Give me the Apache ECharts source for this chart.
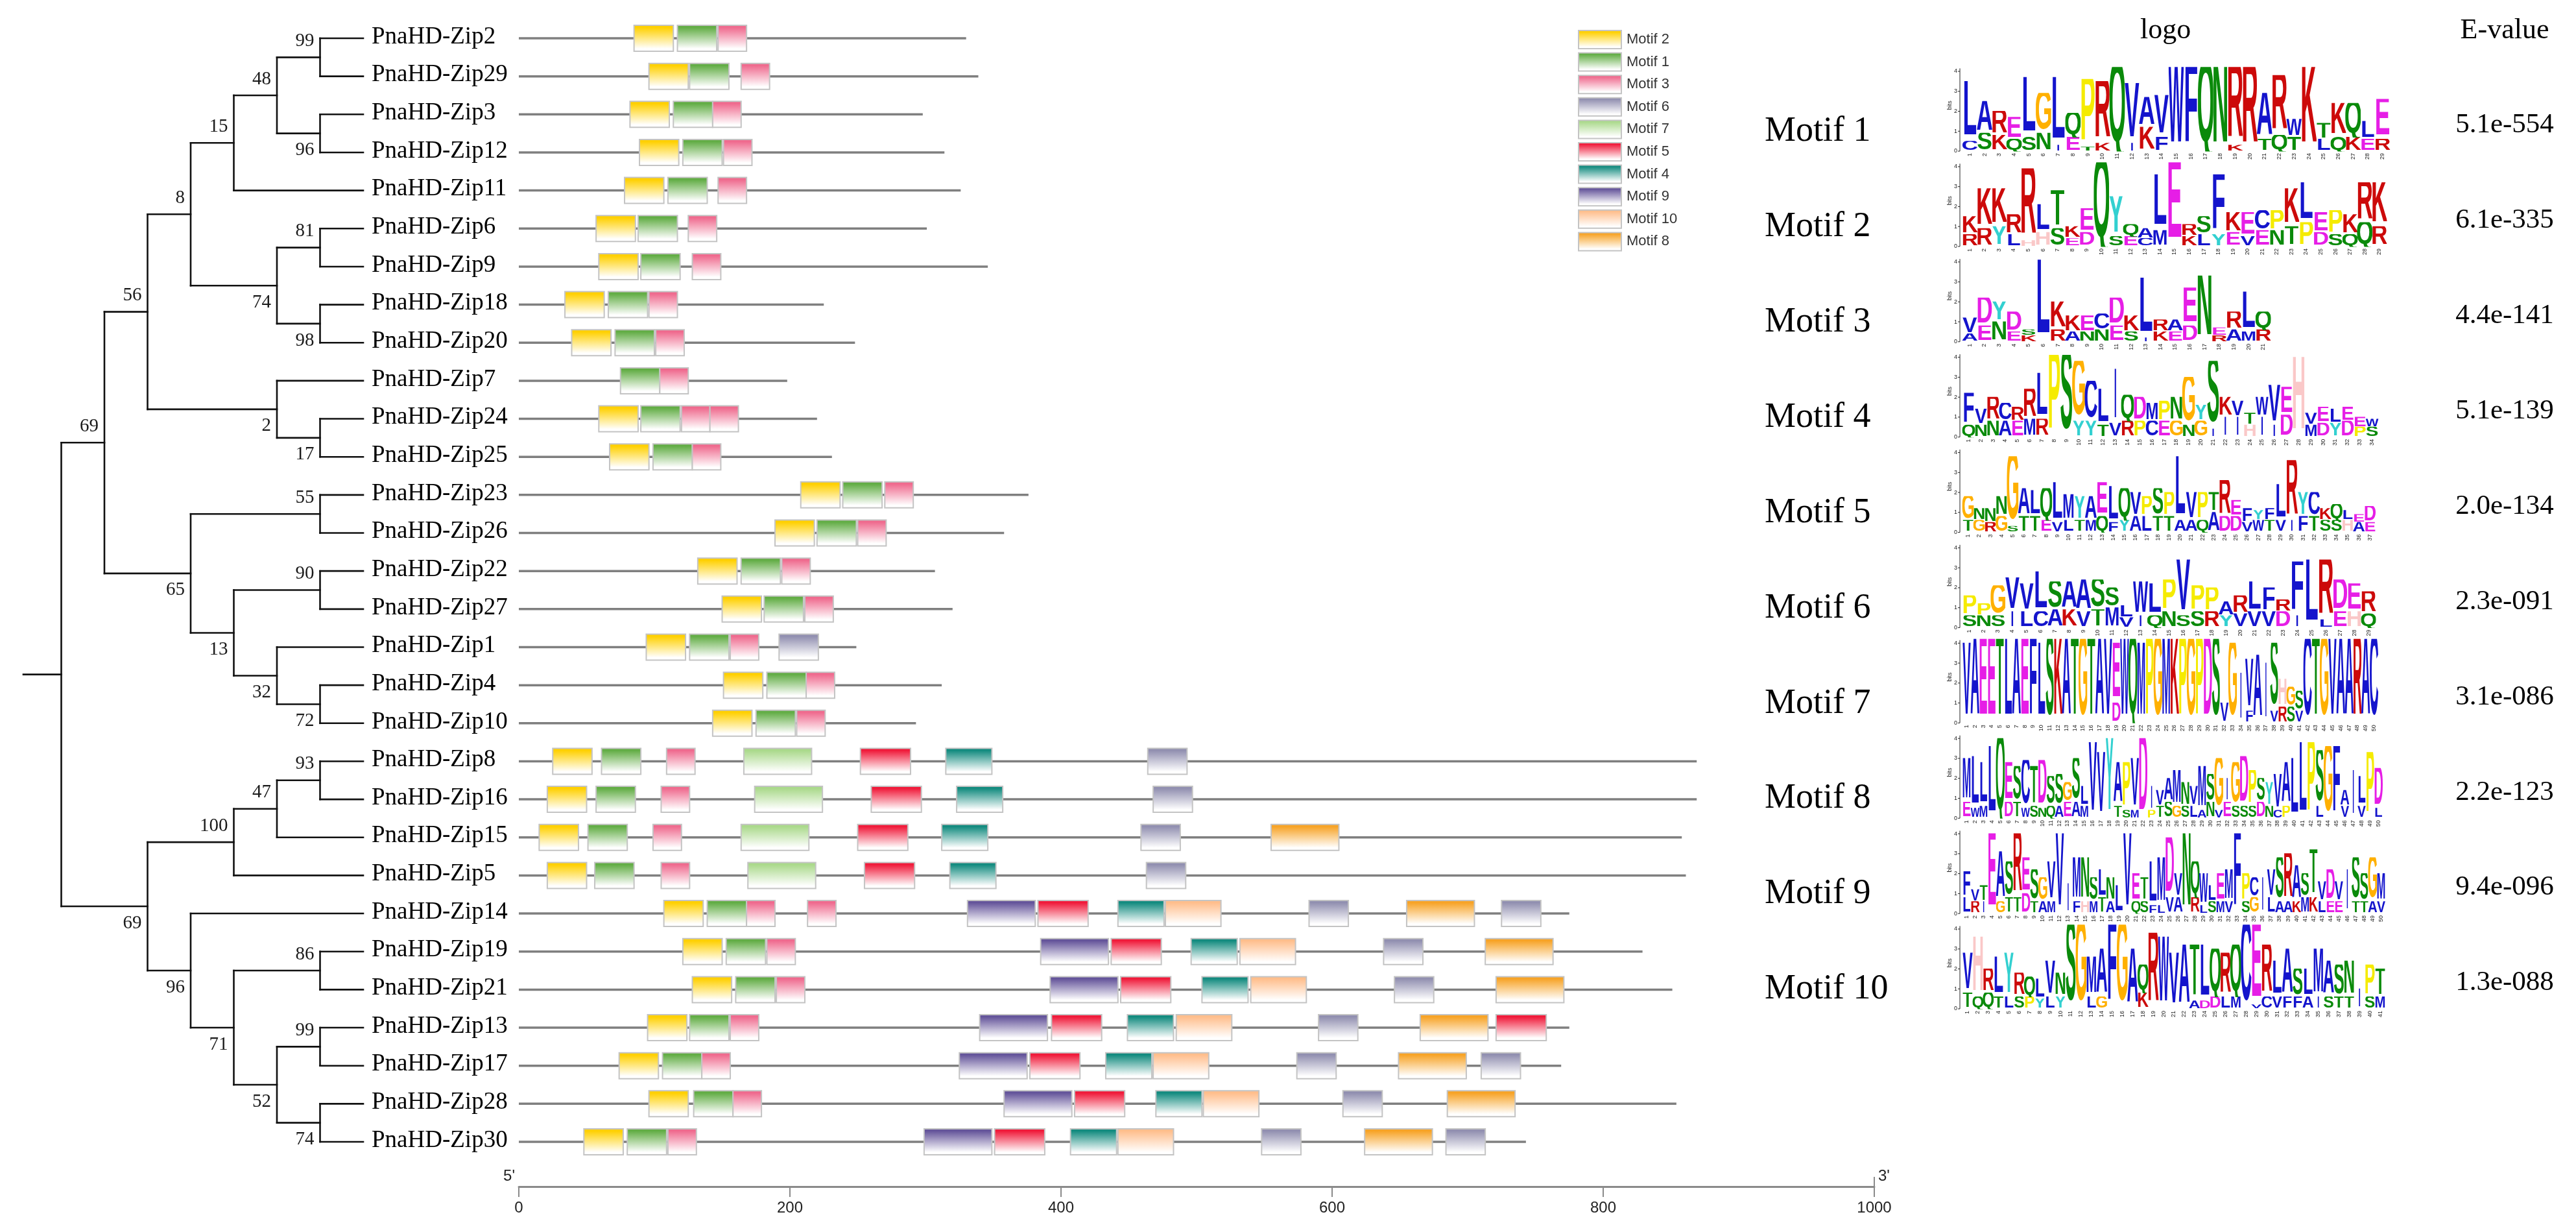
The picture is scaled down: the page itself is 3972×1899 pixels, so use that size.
<!DOCTYPE html>
<html><head><meta charset="utf-8">
<script src="https://cdn.jsdelivr.net/npm/echarts@6/dist/echarts.min.js"></script>
<style>html,body{margin:0;padding:0;background:#fff}#c{width:3972px;height:1899px}</style>
</head><body><div id="c"></div>
<script>
// ---------------- DATA ----------------
const geneNames = ['PnaHD-Zip2','PnaHD-Zip29','PnaHD-Zip3','PnaHD-Zip12','PnaHD-Zip11','PnaHD-Zip6','PnaHD-Zip9','PnaHD-Zip18','PnaHD-Zip20','PnaHD-Zip7','PnaHD-Zip24','PnaHD-Zip25','PnaHD-Zip23','PnaHD-Zip26','PnaHD-Zip22','PnaHD-Zip27','PnaHD-Zip1','PnaHD-Zip4','PnaHD-Zip10','PnaHD-Zip8','PnaHD-Zip16','PnaHD-Zip15','PnaHD-Zip5','PnaHD-Zip14','PnaHD-Zip19','PnaHD-Zip21','PnaHD-Zip13','PnaHD-Zip17','PnaHD-Zip28','PnaHD-Zip30'];
const geneLengths = [330,339,298,314,326,301,346,225,248,198,220,231,376,358,307,320,249,312,293,869,869,858,861,775,829,851,775,769,854,743];
// [motif, start] per gene, same order as geneNames
const geneMotifs = [
 [[2,85],[1,117],[3,147]],
 [[2,96],[1,126],[3,164]],
 [[2,82],[1,114],[3,143]],
 [[2,89],[1,121],[3,151]],
 [[2,78],[1,110],[3,147]],
 [[2,57],[1,88],[3,125]],
 [[2,59],[1,90],[3,128]],
 [[2,34],[1,66],[3,96]],
 [[2,39],[1,71],[3,101]],
 [[1,75],[3,104]],
 [[2,59],[1,90],[3,120],[3,141]],
 [[2,67],[1,99],[3,128]],
 [[2,208],[1,239],[3,270]],
 [[2,189],[1,220],[3,250]],
 [[2,132],[1,164],[3,194]],
 [[2,150],[1,181],[3,211]],
 [[2,94],[1,126],[3,156],[6,192]],
 [[2,151],[1,183],[3,212]],
 [[2,143],[1,175],[3,205]],
 [[2,25],[1,61],[3,109],[7,166],[5,252],[4,315],[6,464]],
 [[2,21],[1,57],[3,105],[7,174],[5,260],[4,323],[6,468]],
 [[2,15],[1,51],[3,99],[7,164],[5,250],[4,312],[6,459],[8,555]],
 [[2,21],[1,56],[3,105],[7,169],[5,255],[4,318],[6,463]],
 [[2,107],[1,139],[3,168],[3,213],[9,331],[5,383],[4,442],[10,477],[6,583],[8,655],[6,725]],
 [[2,121],[1,153],[3,183],[9,385],[5,437],[4,496],[10,532],[6,638],[8,713]],
 [[2,128],[1,160],[3,190],[9,392],[5,444],[4,504],[10,540],[6,646],[8,721]],
 [[2,95],[1,126],[3,156],[9,340],[5,393],[4,449],[10,485],[6,590],[8,665],[5,721]],
 [[2,74],[1,106],[3,135],[9,325],[5,377],[4,433],[10,468],[6,574],[8,649],[6,710]],
 [[2,96],[1,129],[3,158],[9,358],[5,410],[4,470],[10,505],[6,608],[8,685]],
 [[2,48],[1,80],[3,110],[9,299],[5,351],[4,407],[10,442],[6,548],[8,624],[6,684]]
];
// motif lengths (aa), motif 1..10
const motifLengths = [29,29,21,34,37,29,50,50,50,41];
const legendOrder = [2,1,3,6,7,5,4,9,10,8];
const axisTicks = [0,200,400,600,800,1000];
// phylogenetic tree: [bootstrap, child, child]
const treeData = [null,
 [69,
  [56,
   [8,
    [15, [48, [99,'PnaHD-Zip2','PnaHD-Zip29'], [96,'PnaHD-Zip3','PnaHD-Zip12']], 'PnaHD-Zip11'],
    [74, [81,'PnaHD-Zip6','PnaHD-Zip9'], [98,'PnaHD-Zip18','PnaHD-Zip20']]
   ],
   [2, 'PnaHD-Zip7', [17,'PnaHD-Zip24','PnaHD-Zip25']]
  ],
  [65,
   [55,'PnaHD-Zip23','PnaHD-Zip26'],
   [13, [90,'PnaHD-Zip22','PnaHD-Zip27'], [32,'PnaHD-Zip1',[72,'PnaHD-Zip4','PnaHD-Zip10']]]
  ]
 ],
 [69,
  [100, [47, [93,'PnaHD-Zip8','PnaHD-Zip16'], 'PnaHD-Zip15'], 'PnaHD-Zip5'],
  [96, 'PnaHD-Zip14', [71, [86,'PnaHD-Zip19','PnaHD-Zip21'], [52, [99,'PnaHD-Zip13','PnaHD-Zip17'], [74,'PnaHD-Zip28','PnaHD-Zip30']]]]
 ]
];
const motifLabels = ['Motif 1','Motif 2','Motif 3','Motif 4','Motif 5','Motif 6','Motif 7','Motif 8','Motif 9','Motif 10'];
const eValues = ['5.1e-554','6.1e-335','4.4e-141','5.1e-139','2.0e-134','2.3e-091','3.1e-086','2.2e-123','9.4e-096','1.3e-088'];
// sequence logos: top letter per column, its height (tenths of bits), second letter, its height
const logoSeq = [
 'LARELGLQPRQVAVWFQNRRARWKTKQLE',
 'KKKRRLTKEQYQALERSFKECPKLEPKRK',
 'VDYDSLKKECDKLRAENERLQ',
 'FVRCRRLPSGCLIQDMPNGYSKVTWVEHVELEEW',
 'GNNNGALQLMYAELQVPSPLVPTREFYFLRYCKQLED',
 'PPGVVLSAASSLWLPVPPARLFRFLRDER',
 'VAEETLAEFLSKATGTAVEWQMPGMKPGPDSVGIVAISHGSCTGVAARAC',
 'MLLLQESCTDSSGSLVVYAPVDIVAMNVMSGIGDPSYVALLPSGFAILPD',
 'FVTEASRESGVVIMNSLNLVETLMDVNQWLEMFPCIVSRASTVDVISSGM',
 'VHRLYRQLVNSGMAFGAQRWVATLQRQCERLASLMASNIPT'
];
const logoTopH = [
 [30,16,12,11,30,20,34,12,34,31,42,30,15,21,42,42,42,42,39,42,23,30,9,42,8,17,17,9,20],
 [9,20,19,10,36,14,19,6,12,42,20,6,5,28,42,6,9,30,10,12,10,10,19,20,10,12,10,20,22],
 [8,14,10,10,3,41,14,8,8,8,14,8,30,6,6,19,33,4,9,20,9],
 [16,8,12,9,7,15,23,41,41,30,20,18,27,13,12,9,10,12,24,8,34,10,8,6,10,20,14,40,6,8,7,7,5,4],
 [12,6,7,10,35,14,13,16,20,13,12,12,17,18,16,12,10,14,12,32,14,14,10,18,8,7,5,6,18,30,12,12,6,8,5,4,8],
 [10,6,15,17,14,20,14,14,16,15,10,6,17,16,16,28,13,12,7,9,15,12,6,27,34,30,16,14,11],
 [40,42,42,42,42,42,42,42,42,40,42,42,42,42,42,42,42,42,30,42,42,40,42,42,42,42,42,42,42,42,42,10,40,25,26,34,30,34,14,10,10,42,42,42,42,42,42,42,42,42],
 [22,26,22,36,40,20,18,24,20,24,15,16,10,22,10,38,33,40,22,24,26,40,12,8,12,18,12,10,22,14,26,12,22,25,18,12,12,18,22,30,38,38,28,36,36,8,24,15,33,20],
 [13,6,8,40,25,18,32,18,16,12,20,40,15,22,22,12,14,12,14,40,14,12,22,24,30,12,40,18,16,8,14,16,40,14,10,18,14,22,24,18,12,24,10,16,10,22,22,14,22,14],
 [20,30,12,20,22,12,10,10,18,12,42,42,20,24,42,42,30,14,38,36,28,32,28,28,24,22,26,42,40,26,18,24,14,14,24,18,16,18,10,16,14]
];
const logoSub = [
 'CSKQSNIETK IKF    K TQT LQKER',
 'RRYLHHSED SECM KLYEVENTPDSQQR',
 'AENEK RANNESIKED RAMR',
 'QNNAEMR  YYTVRPCEGNGIIIHIID MDYDPS',
 'TGRGSTTEVLTMQFYALTTAAQADDVWTVIFTSSHAE',
 'SNSILCAKVTMVIQNSSRYVVVDI LEHQ',
 '                  D               F  VRSV         ',
 'EWM  DTWSNQAEAM   TSM PTSGSLANVESSSDNCP   L  V V L',
 'LRI GTTDTAM  FHMTA  QSFLVA RLSMV SG LAAKMKLEE TTAV',
 'TQQTLSPYLY  LG   K    ADDLM VCVFFAISTT SM'
];
const logoSubH = [
 [5,9,8,6,7,9,3,7,2,4,0,4,12,7,0,0,0,0,3,0,6,8,7,0,6,7,7,6,6],
 [6,9,10,6,3,7,9,4,7,0,5,5,4,8,0,5,6,6,7,5,8,8,10,12,7,6,6,12,10],
 [4,8,10,5,3,0,6,5,5,6,8,5,2,5,5,8,0,3,6,5,6],
 [6,6,8,8,8,9,9,0,0,8,8,6,7,8,8,8,8,8,6,8,4,10,10,6,10,6,11,0,6,7,7,8,5,5],
 [6,6,5,8,3,8,8,6,5,6,6,6,8,5,6,8,8,8,8,6,6,6,10,8,8,5,6,6,6,6,8,8,6,6,6,5,5],
 [6,6,6,8,8,8,9,9,8,9,10,5,6,6,8,6,8,8,6,7,8,8,8,6,0,4,8,8,7],
 [0,0,0,0,0,0,0,0,0,0,0,0,0,0,0,0,0,0,10,0,0,0,0,0,0,0,0,0,0,0,0,0,0,0,6,0,0,6,8,8,6,0,0,0,0,0,0,0,0,0],
 [8,5,6,0,0,8,8,5,6,5,6,6,8,8,6,0,0,0,6,4,4,0,4,6,8,6,6,6,4,8,4,8,6,6,6,8,6,4,6,0,0,0,6,0,0,6,0,6,0,5],
 [8,6,6,0,6,8,8,10,6,6,6,0,0,6,6,6,8,6,0,0,6,6,4,4,8,8,0,8,4,6,6,6,0,6,8,0,8,6,6,6,8,8,6,6,6,0,6,6,6,6],
 [8,6,8,6,6,6,6,5,6,6,0,0,6,6,0,0,0,8,0,0,0,0,4,4,6,6,6,0,2,6,6,6,6,6,6,6,6,6,0,6,6]
];

// ---------------- STYLE / LAYOUT ----------------
const SERIF = '"Liberation Serif","Times New Roman",serif';
const SANS = '"Liberation Sans",Arial,sans-serif';
const motifColors = {1:'#62AD45',2:'#FFD000',3:'#EF6A8E',4:'#138B7F',5:'#F01A3A',6:'#918FB0',7:'#AAD98B',8:'#F7A326',9:'#64549A',10:'#FFBE8C'};
const LOGO_W = [659,654,475,641,637,637,641,648,652,652]; // px widths of logos
const LOGO_FULL = 659;
const BIT = 30.75/146.9; // one bit in row units
const letterColors = {A:'#1414CC',C:'#1414CC',F:'#1414CC',I:'#1414CC',L:'#1414CC',V:'#1414CC',W:'#1414CC',M:'#1414CC',
  N:'#0A8A0A',Q:'#0A8A0A',S:'#0A8A0A',T:'#0A8A0A',D:'#E61EE6',E:'#E61EE6',K:'#CC0A0A',R:'#CC0A0A',H:'#FAC8C8',G:'#FFB000',P:'#F5EB00',Y:'#33D0D0'};
const letterAdv = {M:0.78,W:0.88,I:1.3};

function grad(c){
  return new echarts.graphic.LinearGradient(0,0,0,1,[{offset:0,color:c},{offset:0.1,color:c},{offset:0.88,color:'#ffffff'},{offset:1,color:'#ffffff'}]);
}

// ---------------- TREE LAYOUT ----------------
const LEAF = 8;
const leafOrder = [], treeSegs = [], bootItems = [];
function lay(node){
  if (typeof node === 'string'){ const y = leafOrder.length; leafOrder.push(node); return {y:y,h:0,boot:null}; }
  const kids = [lay(node[1]), lay(node[2])];
  const h = Math.max(kids[0].h, kids[1].h) + 1;
  const y = (kids[0].y + kids[1].y) / 2;
  const x = LEAF - h;
  treeSegs.push([x, kids[0].y, x, kids[1].y]);
  kids.forEach(function(k,i){
    treeSegs.push([x, k.y, LEAF - k.h, k.y]);
    if (k.boot != null) bootItems.push([LEAF - k.h, k.y, k.boot, i]);
  });
  return {y:y,h:h,boot:node[0]};
}
const rootInfo = lay(treeData);
treeSegs.push([0.12, rootInfo.y, LEAF - rootInfo.h, rootInfo.y]);

// ---------------- LOGO ITEMS ----------------
const logoItems = [], colNumItems = [];
for (let m = 0; m < logoSeq.length; m++){
  const seq = logoSeq[m], n = seq.length, cw = (LOGO_W[m]/LOGO_FULL)/n;
  for (let c = 0; c < n; c++){
    const sh = logoSubH[m][c]/10, th = logoTopH[m][c]/10, sl = logoSub[m][c];
    const x0 = c*cw, x1 = (c+1)*cw;
    if (sh > 0 && sl && sl !== ' ') logoItems.push({row:m,x0:x0,x1:x1,b:0,t:sh,ch:sl});
    logoItems.push({row:m,x0:x0,x1:x1,b:sh,t:sh+th,ch:seq[c]});
    colNumItems.push({row:m,x:(x0+x1)/2,num:c+1});
  }
}

// ---------------- SERIES ----------------
const series = [];
// tree branches
series.push({type:'custom', xAxisIndex:0, yAxisIndex:0, silent:true, clip:false, z:2,
  data: treeSegs, encode:{x:[0,2], y:[1,3]},
  renderItem: function(p, api){
    const a = api.coord([api.value(0), api.value(1)]), b = api.coord([api.value(2), api.value(3)]);
    return {type:'line', shape:{x1:a[0],y1:a[1],x2:b[0],y2:b[1]}, style:{stroke:'#111', lineWidth:2.6, lineCap:'square'}};
  }});
// bootstrap values
series.push({type:'custom', xAxisIndex:0, yAxisIndex:0, silent:true, clip:false, z:3,
  data: bootItems, encode:{x:0, y:1},
  renderItem: function(p, api){
    const a = api.coord([api.value(0), api.value(1)]);
    const below = api.value(3) === 1;
    return {type:'text', x:a[0]-9, y:a[1] + (below ? 26 : -25),
      style:{text:String(api.value(2)), fill:'#1a1a1a', font:'29px '+SERIF, textAlign:'right', textVerticalAlign:'middle'}};
  }});
// leaf labels
series.push({type:'custom', xAxisIndex:0, yAxisIndex:0, silent:true, clip:false, z:3,
  data: leafOrder.map(function(n,i){ return [LEAF, i]; }), encode:{x:0, y:1},
  renderItem: function(p, api){
    const a = api.coord([api.value(0), api.value(1)]);
    return {type:'text', x:a[0]+13, y:a[1]-2,
      style:{text:leafOrder[p.dataIndex], fill:'#000', font:'37px '+SERIF, textAlign:'left', textVerticalAlign:'middle'}};
  }});
// gene backbones
series.push({type:'custom', xAxisIndex:1, yAxisIndex:1, silent:true, clip:false, z:2,
  data: geneLengths.map(function(L,i){ return [L, i]; }), encode:{x:0, y:1},
  renderItem: function(p, api){
    const a = api.coord([0, api.value(1)]), b = api.coord([api.value(0), api.value(1)]);
    return {type:'line', shape:{x1:a[0],y1:a[1],x2:b[0],y2:b[1]}, style:{stroke:'#7f7f7f', lineWidth:3.5}};
  }});
// motif boxes, one series per motif
legendOrder.forEach(function(m){
  const data = [];
  geneMotifs.forEach(function(list, gi){
    list.forEach(function(h){ if (h[0] === m) data.push([h[1], gi, h[1] + motifLengths[m-1]]); });
  });
  const c = motifColors[m];
  series.push({name:'Motif ' + m, type:'custom', xAxisIndex:1, yAxisIndex:1, clip:false, z:4, silent:true,
    itemStyle:{color:grad(c), borderColor:'#c4c4c4', borderWidth:2},
    data:data, encode:{x:[0,2], y:1},
    renderItem: function(p, api){
      const a = api.coord([api.value(0), api.value(1)]), b = api.coord([api.value(2), api.value(1)]);
      return {type:'rect', shape:{x:a[0], y:a[1]-20, width:b[0]-a[0], height:40},
        style:{fill:grad(c), stroke:'#c4c4c4', lineWidth:2}};
    }});
});
// 5' / 3' marks
series.push({type:'custom', xAxisIndex:1, yAxisIndex:1, silent:true, clip:false, z:5,
  data: [[0, 29, 0], [1000, 29, 1]], encode:{x:0, y:1},
  renderItem: function(p, api){
    const a = api.coord([api.value(0), api.value(1)]);
    const end = api.value(2) === 1;
    const axisY = a[1] + 69;
    const kids = [{type:'text', x: end ? a[0]+6 : a[0]-6, y: axisY - 4,
      style:{text: end ? "3'" : "5'", fill:'#222', font:'24px '+SANS, textAlign: end ? 'left' : 'right', textVerticalAlign:'bottom'}}];
    if (end) kids.push({type:'line', shape:{x1:a[0], y1:axisY-15, x2:a[0], y2:axisY}, style:{stroke:'#8a8a8a', lineWidth:2}});
    return {type:'group', children:kids};
  }});
// logo letters (each clipped to its own stack cell)
series.push({type:'custom', xAxisIndex:2, yAxisIndex:2, silent:true, clip:false, z:3,
  data: logoItems.map(function(it){ return [(it.x0+it.x1)/2, it.row]; }), encode:{x:0, y:1},
  renderItem: function(p, api){
    const it = logoItems[p.dataIndex];
    const pb = api.coord([it.x0, it.row - it.b*BIT]);
    const pt = api.coord([it.x1, it.row - it.t*BIT]);
    const w = pt[0] - pb[0], h = pb[1] - pt[1];
    if (h < 0.8) return null;
    const adv = letterAdv[it.ch] || 0.64;
    return {type:'group',
      clipPath:{type:'rect', shape:{x:pb[0]-0.5, y:pt[1]-0.5, width:w+1, height:h+1}},
      children:[{type:'text', x:(pb[0]+pt[0])/2, y:(pb[1]+pt[1])/2, scaleX: w/(adv*100), scaleY: h/71.6,
        style:{text:it.ch, fill:letterColors[it.ch] || '#000', font:'bold 100px '+SANS, textAlign:'center', textVerticalAlign:'middle'}}]};
  }});
// logo axes and column numbers
series.push({type:'custom', xAxisIndex:2, yAxisIndex:2, silent:true, clip:false, z:3,
  data: motifLabels.map(function(l,i){ return [0, i]; }), encode:{x:0, y:1},
  renderItem: function(p, api){
    const r = api.value(1);
    const base = api.coord([0, r]), top = api.coord([0, r - 4.15*BIT]);
    const ax = base[0] - 4;
    const kids = [{type:'line', shape:{x1:ax, y1:base[1], x2:ax, y2:top[1]}, style:{stroke:'#222', lineWidth:1}}];
    for (let b = 0; b <= 4; b++){
      const yy = api.coord([0, r - b*BIT])[1];
      kids.push({type:'line', shape:{x1:ax-3, y1:yy, x2:ax, y2:yy}, style:{stroke:'#222', lineWidth:1}});
      kids.push({type:'text', x:ax-4, y:yy, style:{text:String(b), fill:'#222', font:'9px '+SANS, textAlign:'right', textVerticalAlign:'middle'}});
    }
    const my = api.coord([0, r - 2.3*BIT])[1];
    kids.push({type:'text', x:ax-15, y:my, rotation:Math.PI/2, style:{text:'bits', fill:'#222', font:'9px '+SANS, textAlign:'center', textVerticalAlign:'middle'}});
    colNumItems.forEach(function(c){
      if (c.row !== r) return;
      const q = api.coord([c.x, r]);
      kids.push({type:'text', x:q[0], y:q[1]+3, rotation:Math.PI/2, style:{text:String(c.num), fill:'#222', font:'9px '+SANS, textAlign:'right', textVerticalAlign:'middle'}});
    });
    return {type:'group', children:kids};
  }});
// motif names and E-values
series.push({type:'custom', xAxisIndex:2, yAxisIndex:2, silent:true, clip:false, z:3,
  data: motifLabels.map(function(l,i){ return [0, i]; }), encode:{x:0, y:1},
  renderItem: function(p, api){
    const r = api.value(1);
    const a = api.coord([-0.463, r]), e = api.coord([1.2686, r]);
    return {type:'group', children:[
      {type:'text', x:a[0], y:a[1]-30, style:{text:motifLabels[p.dataIndex], fill:'#000', font:'54px '+SERIF, textAlign:'left', textVerticalAlign:'middle'}},
      {type:'text', x:e[0], y:e[1]-40, style:{text:eValues[p.dataIndex], fill:'#000', font:'43px '+SERIF, textAlign:'center', textVerticalAlign:'middle'}}
    ]};
  }});
// headers
series.push({type:'custom', xAxisIndex:2, yAxisIndex:2, silent:true, clip:false, z:3,
  data: [[0.475, 0, 0], [1.2686, 0, 1]], encode:{x:0, y:1},
  renderItem: function(p, api){
    const a = api.coord([api.value(0), 0]);
    return {type:'text', x:a[0], y:a[1]-186, style:{text: api.value(2) === 1 ? 'E-value' : 'logo', fill:'#000', font:'44px '+SERIF, textAlign:'center', textVerticalAlign:'middle'}};
  }});

const option = {
  backgroundColor:'#ffffff',
  animation:false,
  grid:[
    {left:28, top:59, width:532, height:1701},
    {left:800, top:59, width:2090, height:1701},
    {left:3026, top:233, width:659, height:1322}
  ],
  xAxis:[
    {gridIndex:0, type:'value', min:0, max:8, show:false},
    {gridIndex:1, type:'value', min:0, max:1000, interval:200, position:'bottom', offset:69,
      axisLine:{show:true, onZero:false, lineStyle:{color:'#8a8a8a', width:3}},
      axisTick:{show:true, length:16, lineStyle:{color:'#8a8a8a', width:2}},
      axisLabel:{fontSize:24, color:'#222', fontFamily:SANS, margin:21, formatter: function(v){ return axisTicks.indexOf(v) >= 0 ? String(v) : ''; }},
      splitLine:{show:false}},
    {gridIndex:2, type:'value', min:0, max:1, show:false}
  ],
  yAxis:[
    {gridIndex:0, type:'value', min:0, max:29, inverse:true, show:false},
    {gridIndex:1, type:'value', min:0, max:29, inverse:true, show:false},
    {gridIndex:2, type:'value', min:0, max:9, inverse:true, show:false}
  ],
  legend:{
    data: legendOrder.map(function(m){ return 'Motif ' + m; }),
    orient:'vertical', left:2433, top:46, padding:0,
    icon:'rect', itemWidth:66, itemHeight:28, itemGap:4.6, selectedMode:false,
    itemStyle:{borderColor:'#c4c4c4', borderWidth:2},
    textStyle:{fontSize:22, color:'#333', fontFamily:SANS, padding:[0,0,0,3]}
  },
  series: series
};
const chart = echarts.init(document.getElementById('c'), null, {renderer:'canvas'});
chart.setOption(option);
</script>
</body></html>
